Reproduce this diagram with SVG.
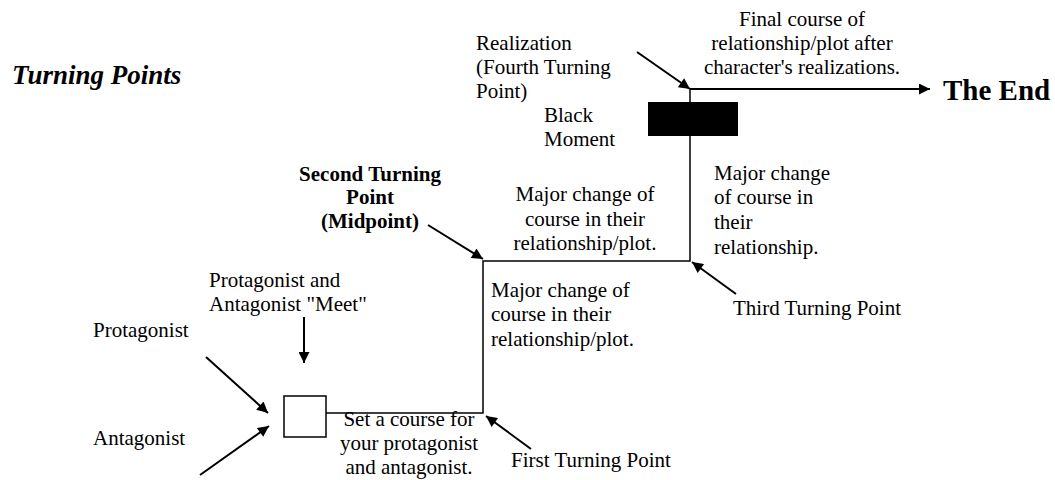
<svg xmlns="http://www.w3.org/2000/svg" width="1055" height="480" viewBox="0 0 1055 480" font-family="'Liberation Serif', 'DejaVu Serif', serif">
<defs>
<marker id="ah" viewBox="0 0 10 10" refX="10" refY="5" markerWidth="6.5" markerHeight="5.5" markerUnits="strokeWidth" orient="auto">
<path d="M0,0 L10,5 L0,10 z" fill="#000"/>
</marker>
<style>
text{font-family:'Liberation Serif','DejaVu Serif',serif;font-size:21px;fill:#000}
.b{font-weight:bold}
.c{text-anchor:middle}
.arr{stroke:#000;stroke-width:2;fill:none;marker-end:url(#ah)}
.ln{stroke:#000;stroke-width:1.5;fill:none}
</style>
</defs>
<rect width="1055" height="480" fill="#fff"/>
<g id="title"><text x="12" y="84" class="b" style="font-style:italic;font-size:27px">Turning Points</text></g>
<g id="connectors">
<path class="ln" d="M326,413 H483 V261 H690 V89"/>
<path class="arr" d="M690,89 H930"/>
<path class="arr" d="M637,52 L690,89"/>
<path class="arr" d="M428,225 L483,259"/>
<path class="arr" d="M736,294 L692,262"/>
<path class="arr" d="M531,449 L486,416"/>
<path class="arr" d="M304,317 V363"/>
<path class="arr" d="M206,357 L268,413"/>
<path class="arr" d="M200,475 L269,426"/>
</g>
<g id="start"><rect x="284" y="396" width="42" height="41" fill="#fff" stroke="#000" stroke-width="1.5"/></g>
<g id="black-moment"><rect x="648" y="102" width="90" height="34" fill="#000"/>
<text x="544" y="122">Black</text><text x="544" y="146">Moment</text></g>
<g id="the-end"><text x="943" y="100" class="b" style="font-size:29px">The End</text></g>
<g id="realization"><text x="476" y="50">Realization</text><text x="476" y="74">(Fourth Turning</text><text x="476" y="98">Point)</text></g>
<g id="final"><text class="c" x="802" y="26">Final course of</text><text class="c" x="802" y="50">relationship/plot after</text><text class="c" x="802" y="74">character's realizations.</text></g>
<g id="second"><text class="b c" x="370" y="181">Second Turning</text><text class="b c" x="370" y="204">Point</text><text class="b c" x="370" y="228">(Midpoint)</text></g>
<g id="change2"><text class="c" x="585" y="201">Major change of</text><text class="c" x="585" y="226">course in their</text><text class="c" x="585" y="250">relationship/plot.</text></g>
<g id="change1"><text x="491" y="297">Major change of</text><text x="491" y="321">course in their</text><text x="491" y="346">relationship/plot.</text></g>
<g id="change3"><text x="714" y="180">Major change</text><text x="714" y="204">of course in</text><text x="714" y="229">their</text><text x="714" y="254">relationship.</text></g>
<g id="third"><text x="733" y="315">Third Turning Point</text></g>
<g id="first"><text x="511" y="467">First Turning Point</text></g>
<g id="setcourse"><text class="c" x="409" y="426">Set a course for</text><text class="c" x="409" y="450">your protagonist</text><text class="c" x="409" y="474">and antagonist.</text></g>
<g id="meet"><text x="209" y="287">Protagonist and</text><text x="209" y="311">Antagonist "Meet"</text></g>
<g id="protagonist"><text x="93" y="337">Protagonist</text></g>
<g id="antagonist"><text x="93" y="445">Antagonist</text></g>
</svg>
